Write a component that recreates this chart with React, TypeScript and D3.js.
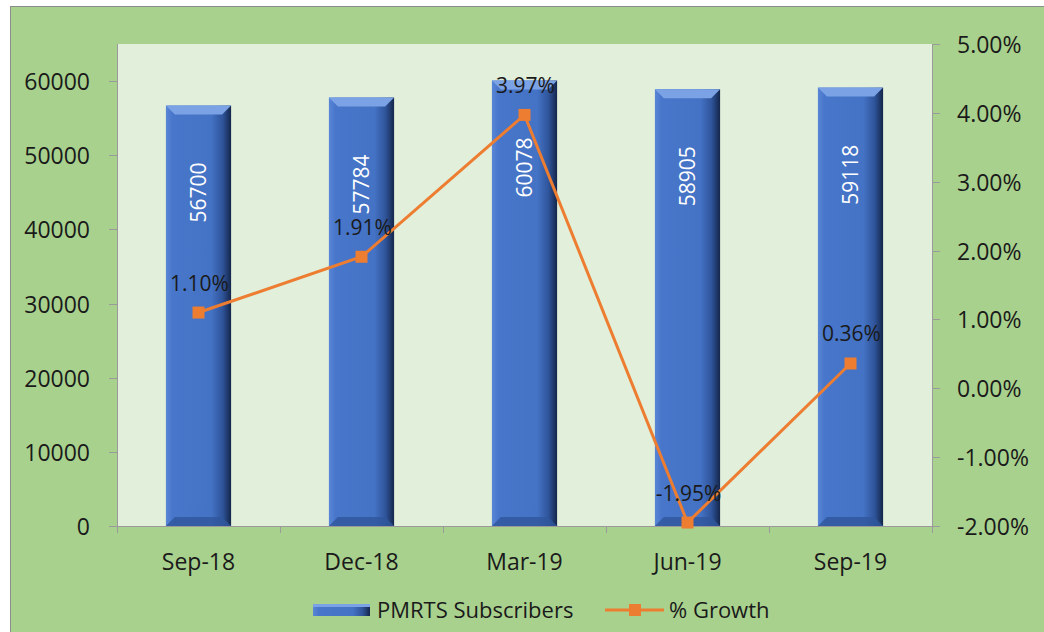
import React, { useRef, useEffect } from "react";
import * as d3 from "d3";

const categories = ["Sep-18", "Dec-18", "Mar-19", "Jun-19", "Sep-19"];
const subscribers = [56700, 57784, 60078, 58905, 59118];
const growth = [1.1, 1.91, 3.97, -1.95, 0.36];
const leftTicks = [0, 10000, 20000, 30000, 40000, 50000, 60000];
const rightTicks = [-2, -1, 0, 1, 2, 3, 4, 5];

const W = 1044;
const H = 632;
const FONT = "'Open Sans', 'Noto Sans', sans-serif";

const App = () => {
  const svgRef = useRef<SVGSVGElement>(null);

  useEffect(() => {
    const svg = d3.select(svgRef.current);
    svg.selectAll("*").remove();

    const m = { top: 44, right: 112, bottom: 106, left: 117 };
    const x0 = m.left;
    const x1 = W - m.right;
    const y0 = H - m.bottom;
    const y1 = m.top;

    const defs = svg.append("defs");
    const g = defs
      .append("linearGradient")
      .attr("id", "barGrad")
      .attr("x1", "0%")
      .attr("x2", "100%");
    g.append("stop").attr("offset", "0%").attr("stop-color", "#5a86d6");
    g.append("stop").attr("offset", "10%").attr("stop-color", "#4876ca");
    g.append("stop").attr("offset", "70%").attr("stop-color", "#4472c4");
    g.append("stop").attr("offset", "87%").attr("stop-color", "#2f549a");
    g.append("stop").attr("offset", "100%").attr("stop-color", "#14264a");

    // outer background
    svg.append("rect").attr("width", W).attr("height", H).attr("fill", "#ffffff");
    svg
      .append("rect")
      .attr("x", 10.5)
      .attr("y", 6.5)
      .attr("width", W)
      .attr("height", H)
      .attr("fill", "#a9d18e")
      .attr("stroke", "#8c8c8c");

    // plot area
    svg
      .append("rect")
      .attr("x", x0)
      .attr("y", y1)
      .attr("width", x1 - x0)
      .attr("height", y0 - y1)
      .attr("fill", "#e2efda");

    const x = d3.scaleBand().domain(categories).range([x0, x1]).paddingInner(0.6).paddingOuter(0.3);
    const xc = (c: string) => (x(c) as number) + x.bandwidth() / 2;
    const yL = d3.scaleLinear().domain([0, 65000]).range([y0, y1]);
    const yR = d3.scaleLinear().domain([-2, 5]).range([y0, y1]);

    // bars
    const bw = x.bandwidth();
    const bev = 9;
    categories.forEach((c, i) => {
      const bx = x(c) as number;
      const top = yL(subscribers[i]);
      const bg = svg.append("g");
      bg.append("rect")
        .attr("x", bx)
        .attr("y", top)
        .attr("width", bw)
        .attr("height", y0 - top)
        .attr("fill", "url(#barGrad)");
      bg.append("polygon")
        .attr("points", `${bx},${top} ${bx + bw},${top} ${bx + bw - bev},${top + bev} ${bx + bev},${top + bev}`)
        .attr("fill", "#7ba2e4");
      bg.append("polygon")
        .attr("points", `${bx},${y0} ${bx + bw},${y0} ${bx + bw - bev},${y0 - bev} ${bx + bev},${y0 - bev}`)
        .attr("fill", "#2f569c")
        .attr("opacity", 0.8);
      bg.append("text")
        .attr("transform", `translate(${xc(c) + 7},${top + 57}) rotate(-90)`)
        .attr("text-anchor", "end")
        .attr("fill", "#ffffff")
        .style("font-family", FONT)
        .style("font-size", "21px")
        .text(subscribers[i]);
    });

    // axes
    const axisColor = "#9a9a9a";
    svg.append("line").attr("x1", x0 + 0.5).attr("x2", x0 + 0.5).attr("y1", y1).attr("y2", y0 + 7).attr("stroke", axisColor);
    svg.append("line").attr("x1", x1 + 0.5).attr("x2", x1 + 0.5).attr("y1", y1).attr("y2", y0 + 7).attr("stroke", axisColor);
    svg.append("line").attr("x1", x0).attr("x2", x1).attr("y1", y0 + 0.5).attr("y2", y0 + 0.5).attr("stroke", axisColor);

    leftTicks.forEach((t) => {
      const yy = Math.round(yL(t)) + 0.5;
      svg.append("line").attr("x1", x0 - 8).attr("x2", x0).attr("y1", yy).attr("y2", yy).attr("stroke", axisColor);
      svg.append("text")
        .attr("x", 90)
        .attr("y", yy + 8)
        .attr("text-anchor", "end")
        .attr("fill", "#1a1a1a")
        .style("font-family", FONT)
        .style("font-size", "23px")
        .text(t);
    });

    rightTicks.forEach((t) => {
      const yy = Math.round(yR(t)) + 0.5;
      svg.append("line").attr("x1", x1).attr("x2", x1 + 8).attr("y1", yy).attr("y2", yy).attr("stroke", axisColor);
      svg.append("text")
        .attr("x", 957)
        .attr("y", yy + 8)
        .attr("fill", "#1a1a1a")
        .style("font-family", FONT)
        .style("font-size", "23px")
        .text(`${t.toFixed(2)}%`);
    });

    const step = (x1 - x0) / categories.length;
    d3.range(categories.length + 1).forEach((i) => {
      const xx = Math.round(x0 + i * step) + 0.5;
      svg.append("line").attr("x1", xx).attr("x2", xx).attr("y1", y0).attr("y2", y0 + 7).attr("stroke", axisColor);
    });

    categories.forEach((c) => {
      svg.append("text")
        .attr("x", xc(c))
        .attr("y", 570)
        .attr("text-anchor", "middle")
        .attr("fill", "#1a1a1a")
        .style("font-family", FONT)
        .style("font-size", "23px")
        .text(c);
    });

    // growth line
    const line = d3
      .line<number>()
      .x((_, i) => xc(categories[i]))
      .y((d) => yR(d));
    svg.append("path")
      .datum(growth)
      .attr("fill", "none")
      .attr("stroke", "#ed7d31")
      .attr("stroke-width", 3)
      .attr("d", line);

    growth.forEach((v, i) => {
      const cx = xc(categories[i]);
      const cy = yR(v);
      svg.append("rect")
        .attr("x", cx - 6)
        .attr("y", cy - 6)
        .attr("width", 12)
        .attr("height", 12)
        .attr("fill", "#ed7d31");
      svg.append("text")
        .attr("x", cx + 1)
        .attr("y", cy - 22)
        .attr("text-anchor", "middle")
        .attr("fill", "#1a1a1a")
        .style("font-family", FONT)
        .style("font-size", "21px")
        .text(`${v.toFixed(2)}%`);
    });

    // legend
    const ly = 610;
    const lg = svg.append("g");
    lg.append("rect").attr("x", 313).attr("y", ly - 6).attr("width", 57).attr("height", 12).attr("fill", "url(#barGrad)");
    lg.append("rect").attr("x", 313).attr("y", ly - 6).attr("width", 57).attr("height", 3).attr("fill", "#7ba2e4");
    lg.append("text")
      .attr("x", 377)
      .attr("y", ly + 8)
      .attr("fill", "#1a1a1a")
      .style("font-family", FONT)
      .style("font-size", "22px")
      .text("PMRTS Subscribers");
    lg.append("line").attr("x1", 605).attr("x2", 664).attr("y1", ly).attr("y2", ly).attr("stroke", "#ed7d31").attr("stroke-width", 3);
    lg.append("rect").attr("x", 629).attr("y", ly - 6).attr("width", 12).attr("height", 12).attr("fill", "#ed7d31");
    lg.append("text")
      .attr("x", 669)
      .attr("y", ly + 8)
      .attr("fill", "#1a1a1a")
      .style("font-family", FONT)
      .style("font-size", "22px")
      .text("% Growth");
  }, []);

  return (
    <svg
      ref={svgRef}
      width={W}
      height={H}
      style={{ position: "absolute", left: 0, top: 0 }}
    ></svg>
  );
};

export default App;
